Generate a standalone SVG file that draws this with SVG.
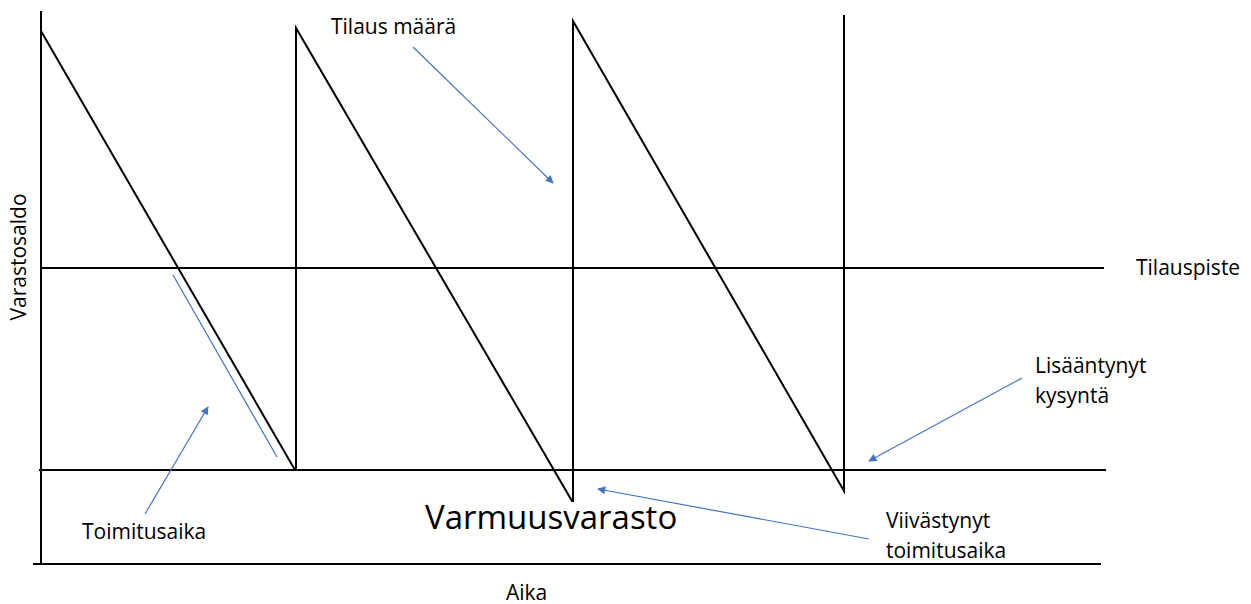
<svg xmlns="http://www.w3.org/2000/svg" width="1251" height="604" viewBox="0 0 1251 604">
<style>
.ax{stroke:#000;stroke-width:2;fill:none}
.saw{stroke:#000;stroke-width:2;fill:none;stroke-linejoin:miter}
.bl{stroke:#4472C4;stroke-width:1.2;fill:none}
.t{font-family:"Open Sans","Liberation Sans",sans-serif;font-size:21px;fill:#000}
.big{font-size:33px}
</style>
<defs>
<marker id="ah" viewBox="0 0 10 10" refX="9" refY="5" markerWidth="10" markerHeight="8" markerUnits="userSpaceOnUse" orient="auto">
<path d="M0,0 L10,5 L0,10 z" fill="#4472C4"/>
</marker>
</defs>
<g id="axes">
<line class="ax" x1="41" y1="11" x2="41" y2="564"/>
<line class="ax" x1="33" y1="564" x2="1101" y2="564"/>
<line class="ax" x1="41" y1="268" x2="1104" y2="268"/>
<line class="ax" x1="39" y1="470" x2="1106" y2="470"/>
</g>
<g id="sawtooth">
<polyline class="saw" points="41,31 295,470 296,470 296,28 572,501 573,501 573,21 844,491 844,15"/>
</g>
<g id="connectors">
<line class="bl" x1="413" y1="47" x2="553" y2="183" marker-end="url(#ah)"/>
<line class="bl" x1="173" y1="275" x2="277" y2="457"/>
<line class="bl" x1="145" y1="514" x2="208" y2="407" marker-end="url(#ah)"/>
<line class="bl" x1="869" y1="539" x2="598" y2="489" marker-end="url(#ah)"/>
<line class="bl" x1="1022" y1="378" x2="869" y2="461" marker-end="url(#ah)"/>
</g>
<g id="labels">
<text class="t" x="331" y="34">Tilaus määrä</text>
<text class="t" x="1136" y="275">Tilauspiste</text>
<text class="t" x="1035" y="373">Lisääntynyt</text>
<text class="t" x="1035" y="403">kysyntä</text>
<text class="t" x="886" y="528">Viivästynyt</text>
<text class="t" x="886" y="558">toimitusaika</text>
<text class="t big" x="425" y="529">Varmuusvarasto</text>
<text class="t" x="82" y="539">Toimitusaika</text>
<text class="t" x="506" y="600">Aika</text>
<text class="t" transform="translate(26,257) rotate(-90)" text-anchor="middle">Varastosaldo</text>
</g>
</svg>
